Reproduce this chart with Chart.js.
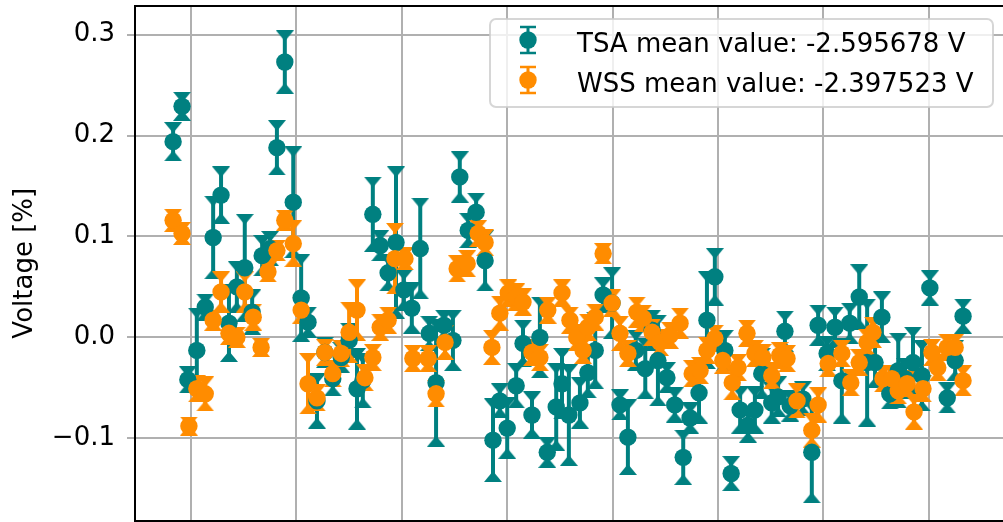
<!DOCTYPE html>
<html>
<head>
<meta charset="utf-8">
<script src="https://cdn.jsdelivr.net/npm/chart.js@4.4.0/dist/chart.umd.min.js"></script>
<style>
    html, body { margin: 0; padding: 0; background: #fff; }
    #wrap { width: 1003px; height: 522px; position: relative; }
</style>
</head>
<body>
<div id="wrap"><canvas id="myChart"></canvas></div>
<script>

// measurement day of each TSA sample, its deviation [%] and the error
var tsaDay = [16.6, 18.3, 19.4, 21.1, 22.7, 24.2, 25.7, 27.2, 28.7, 30.2, 31.6, 33.5, 35.0, 36.3, 37.8, 39.4, 40.9, 42.2, 43.9, 45.4,
    46.9, 48.5, 50.0, 51.5, 52.6, 54.5, 55.9, 57.4, 58.9, 60.4, 61.9, 63.5, 65.2, 66.5, 68.0, 69.7, 71.0, 72.6, 74.1, 75.8,
    77.3, 78.6, 80.0, 81.7, 83.0, 84.7, 86.2, 87.6, 89.3, 90.4, 91.7, 93.8, 95.3, 96.7, 98.2, 99.9, 101.4, 102.9, 104.4, 106.2,
    107.5, 108.6, 110.3, 111.8, 113.4, 114.7, 116.4, 117.9, 119.4, 121.3, 122.5, 124.2, 125.7, 127.0, 128.3, 130.2, 131.4, 132.7, 133.7, 136.1,
    137.8, 139.0, 140.7, 142.2, 143.5, 145.0, 146.8, 148.3, 149.8, 151.1, 152.6, 154.2, 155.5, 157.0, 158.7, 160.2, 163.5, 165.0, 166.5];

var tsaValue = [0.194, 0.229, -0.042, -0.013, 0.030, 0.099, 0.141, 0.014, 0.050, 0.069, 0.025, 0.081, 0.088, 0.188, 0.273, 0.134, 0.039, 0.015, -0.063, -0.015,
    -0.041, -0.020, -0.003, -0.051, -0.043, 0.122, 0.091, 0.064, 0.094, 0.047, 0.029, 0.088, 0.004, -0.045, 0.012, -0.003, 0.159, 0.106, 0.124, 0.076,
    -0.102, -0.063, -0.090, -0.048, -0.006, -0.077, 0.000, -0.114, -0.069, -0.046, -0.077, -0.065, -0.035, -0.013, 0.042, 0.034, -0.067, -0.099, -0.013, -0.031,
    0.007, -0.023, -0.040, -0.067, -0.119, -0.080, -0.055, 0.017, 0.060, -0.013, -0.135, -0.072, -0.087, -0.072, -0.036, -0.065, -0.059, 0.006, -0.068, -0.061,
    -0.114, 0.012, -0.016, 0.010, -0.043, 0.014, 0.040, -0.025, -0.025, 0.020, -0.056, -0.033, -0.041, -0.025, -0.038, 0.049, -0.060, -0.023, 0.021];

var tsaError = [0.014, 0.009, 0.008, 0.037, 0.008, 0.036, 0.023, 0.033, 0.020, 0.048, 0.017, 0.015, 0.012, 0.022, 0.026, 0.050, 0.038, 0.010, 0.022, 0.010,
    0.012, 0.010, 0.012, 0.035, 0.022, 0.032, 0.010, 0.013, 0.070, 0.015, 0.020, 0.045, 0.012, 0.058, 0.010, 0.025, 0.020, 0.012, 0.014, 0.025,
    0.036, 0.012, 0.025, 0.017, 0.018, 0.018, 0.035, 0.010, 0.038, 0.030, 0.045, 0.020, 0.020, 0.033, 0.012, 0.030, 0.010, 0.032, 0.015, 0.025,
    0.015, 0.040, 0.010, 0.012, 0.022, 0.010, 0.025, 0.043, 0.023, 0.015, 0.012, 0.018, 0.012, 0.018, 0.020, 0.015, 0.015, 0.015, 0.010, 0.012,
    0.045, 0.015, 0.012, 0.015, 0.037, 0.015, 0.027, 0.058, 0.020, 0.020, 0.010, 0.032, 0.015, 0.030, 0.030, 0.012, 0.010, 0.015, 0.012];

// same for WSS
var wssDay = [16.6, 18.3, 19.6, 21.1, 22.7, 24.2, 25.7, 27.2, 28.7, 30.2, 31.8, 33.3, 34.6, 36.3, 37.8, 39.4, 40.9, 42.2, 43.9, 45.4,
    46.9, 48.5, 50.0, 51.5, 53.0, 54.5, 55.9, 57.4, 58.7, 60.6, 62.1, 65.0, 66.5, 68.2, 70.5, 72.4, 74.5, 75.8, 77.1, 78.6,
    80.2, 81.7, 83.0, 84.7, 86.2, 87.7, 90.4, 91.9, 93.2, 94.4, 95.3, 96.7, 98.2, 99.9, 101.4, 102.9, 104.6, 105.8, 107.5, 109.0,
    110.9, 112.8, 115.1, 116.6, 117.9, 119.4, 120.9, 122.7, 123.8, 125.5, 127.0, 128.5, 130.2, 131.7, 133.1, 135.0, 137.8, 139.0, 140.9, 143.5,
    145.2, 146.8, 148.3, 149.4, 151.3, 153.0, 154.2, 155.9, 157.2, 158.9, 160.6, 161.7, 163.5, 165.0, 166.5];

var wssValue = [0.116, 0.103, -0.088, -0.051, -0.056, 0.017, 0.045, 0.004, 0.000, 0.045, 0.020, -0.010, 0.065, 0.086, 0.116, 0.093, 0.027, -0.046, -0.060, -0.015,
    -0.036, -0.016, 0.005, 0.027, -0.040, -0.020, 0.010, 0.017, 0.078, 0.078, -0.021, -0.021, -0.056, -0.005, 0.068, 0.073, 0.103, 0.094, -0.010, 0.024,
    0.044, 0.040, 0.035, -0.015, -0.020, 0.027, 0.044, 0.017, 0.000, -0.013, 0.010, 0.020, 0.083, 0.034, 0.004, -0.016, 0.025, 0.019, 0.005, -0.005,
    0.002, 0.014, -0.036, -0.033, -0.013, -0.001, -0.023, -0.045, -0.030, 0.004, -0.016, -0.020, -0.038, -0.018, -0.021, -0.063, -0.092, -0.067, -0.026, -0.016,
    -0.045, -0.025, -0.005, 0.005, -0.041, -0.041, -0.053, -0.046, -0.074, -0.051, -0.015, -0.030, -0.010, -0.010, -0.043];

var wssError = [0.006, 0.006, 0.004, 0.008, 0.012, 0.005, 0.015, 0.006, 0.005, 0.015, 0.008, 0.004, 0.005, 0.005, 0.005, 0.018, 0.008, 0.025, 0.008, 0.008,
    0.008, 0.008, 0.025, 0.025, 0.008, 0.008, 0.008, 0.008, 0.030, 0.006, 0.008, 0.008, 0.008, 0.012, 0.008, 0.008, 0.008, 0.008, 0.012, 0.012,
    0.008, 0.008, 0.008, 0.008, 0.008, 0.008, 0.008, 0.008, 0.008, 0.008, 0.008, 0.008, 0.005, 0.008, 0.012, 0.008, 0.010, 0.008, 0.008, 0.008,
    0.008, 0.010, 0.008, 0.008, 0.008, 0.008, 0.008, 0.012, 0.008, 0.008, 0.008, 0.008, 0.008, 0.008, 0.008, 0.012, 0.012, 0.012, 0.008, 0.008,
    0.008, 0.008, 0.008, 0.010, 0.008, 0.008, 0.008, 0.008, 0.012, 0.008, 0.008, 0.008, 0.008, 0.008, 0.010];

var seriesLabels = ['TSA mean value: -2.595678 V', 'WSS mean value: -2.397523 V'];

var TEAL = '#008080';
var ORANGE = '#ff8c00';

Chart.defaults.font.family = '"DejaVu Sans", sans-serif';
Chart.defaults.font.size = 26;
Chart.defaults.color = '#000';

// triangle cap marker, flat side outwards
function capImage(color, up) {
    var c = document.createElement('canvas');
    c.width = 18;
    c.height = 11;
    var g = c.getContext('2d');
    g.fillStyle = color;
    g.beginPath();
    if (up) {
        g.moveTo(9, 0); g.lineTo(18, 11); g.lineTo(0, 11);
    } else {
        g.moveTo(0, 0); g.lineTo(18, 0); g.lineTo(9, 11);
    }
    g.closePath();
    g.fill();
    return c;
}

function toPoints(days, values) {
    var pts = [];
    for (var i = 0; i < days.length; i++) {
        pts.push({ x: days[i], y: values[i] });
    }
    return pts;
}

function errorSegments(days, values, errors) {
    var pts = [];
    for (var i = 0; i < days.length; i++) {
        pts.push({ x: days[i], y: values[i] - errors[i] });
        pts.push({ x: days[i], y: values[i] + errors[i] });
        pts.push({ x: days[i], y: null });
    }
    return pts;
}

function capPoints(days, values, errors, sign) {
    var pts = [];
    for (var i = 0; i < days.length; i++) {
        pts.push({ x: days[i], y: values[i] + sign * errors[i] });
    }
    return pts;
}

function errorDatasets(days, values, errors, color, order) {
    return [{
        type: 'line',
        data: errorSegments(days, values, errors),
        borderColor: color,
        borderWidth: 4,
        pointRadius: 0,
        spanGaps: false,
        tension: 0,
        fill: false,
        order: order
    }, {
        type: 'scatter',
        data: capPoints(days, values, errors, 1),
        pointStyle: capImage(color, false),
        pointRadius: 9,
        order: order - 1
    }, {
        type: 'scatter',
        data: capPoints(days, values, errors, -1),
        pointStyle: capImage(color, true),
        pointRadius: 9,
        order: order - 1
    }];
}

function markerDataset(days, values, color, order) {
    return {
        type: 'scatter',
        data: toPoints(days, values),
        backgroundColor: color,
        borderWidth: 0,
        pointRadius: 8.7,
        pointHoverRadius: 8.7,
        order: order
    };
}

function roundRectPath(ctx, x, y, w, h, r) {
    ctx.beginPath();
    ctx.moveTo(x + r, y);
    ctx.arcTo(x + w, y, x + w, y + h, r);
    ctx.arcTo(x + w, y + h, x, y + h, r);
    ctx.arcTo(x, y + h, x, y, r);
    ctx.arcTo(x, y, x + w, y, r);
    ctx.closePath();
}

// framed legend in the upper right corner with errorbar glyphs
var legendBox = {
    id: 'legendBox',
    afterDraw: function (chart) {
        var ctx = chart.ctx;
        var area = chart.chartArea;
        var w = 503, h = 88;
        var left = area.right - 10 - w;
        var top = area.top + 13;
        var colors = [TEAL, ORANGE];

        ctx.save();
        roundRectPath(ctx, left, top, w, h, 6);
        ctx.fillStyle = 'rgba(255,255,255,0.8)';
        ctx.fill();
        ctx.lineWidth = 2;
        ctx.strokeStyle = 'rgba(204,204,204,0.8)';
        ctx.stroke();

        for (var i = 0; i < seriesLabels.length; i++) {
            var cx = left + 38;
            var cy = top + 21 + i * 40;
            ctx.strokeStyle = colors[i];
            ctx.fillStyle = colors[i];
            ctx.lineWidth = 3;
            ctx.beginPath();
            ctx.moveTo(cx, cy - 13);
            ctx.lineTo(cx, cy + 13);
            ctx.stroke();
            ctx.lineWidth = 2.5;
            ctx.beginPath();
            ctx.moveTo(cx - 8, cy - 13); ctx.lineTo(cx + 8, cy - 13);
            ctx.moveTo(cx - 8, cy + 13); ctx.lineTo(cx + 8, cy + 13);
            ctx.stroke();
            ctx.beginPath();
            ctx.arc(cx, cy, 8.7, 0, Math.PI * 2);
            ctx.fill();

            ctx.fillStyle = '#000';
            ctx.font = '26px "DejaVu Sans"';
            ctx.textBaseline = 'alphabetic';
            ctx.textAlign = 'left';
            ctx.fillText(seriesLabels[i], left + 87, top + 33 + i * 40);
        }
        ctx.restore();
    }
};

var datasets = []
    .concat(errorDatasets(tsaDay, tsaValue, tsaError, TEAL, 7))
    .concat(errorDatasets(wssDay, wssValue, wssError, ORANGE, 5))
    .concat([markerDataset(tsaDay, tsaValue, TEAL, 2), markerDataset(wssDay, wssValue, ORANGE, 1)]);

var ctx = document.getElementById('myChart').getContext('2d');

window.myChart = new Chart(ctx, {
    type: 'scatter',
    data: { datasets: datasets },
    plugins: [legendBox],
    options: {
        responsive: true,
        maintainAspectRatio: false,
        animation: false,
        events: [],
        layout: { autoPadding: false, padding: { top: 6, bottom: 1.5, left: 0, right: 0 } },
        plugins: {
            legend: { display: false },
            tooltip: { enabled: false }
        },
        scales: {
            x: {
                type: 'linear',
                min: 9.37,
                max: 174.08,
                offset: false,
                ticks: { display: false, stepSize: 20, includeBounds: false },
                grid: { color: '#b0b0b0', lineWidth: 2, drawTicks: false, offset: false },
                border: { color: '#000', width: 2 },
                afterFit: function (scale) {
                    scale.paddingLeft = 0; scale.paddingRight = 0;
                }
            },
            x2: {
                type: 'linear',
                position: 'top',
                min: 9.37,
                max: 174.08,
                ticks: { display: false },
                grid: { display: false, drawTicks: false },
                border: { color: '#000', width: 2 },
                afterFit: function (scale) {
                    scale.height = 0; scale.paddingLeft = 0; scale.paddingRight = 0;
                }
            },
            y: {
                type: 'linear',
                min: -0.1816,
                max: 0.3285,
                ticks: {
                    stepSize: 0.1,
                    includeBounds: false,
                    padding: 12,
                    callback: function (v) {
                        return (v < -1e-9 ? '\u2212' : '') + Math.abs(v).toFixed(1);
                    }
                },
                grid: { color: '#b0b0b0', lineWidth: 2, tickLength: 8, tickColor: '#b0b0b0' },
                border: { color: '#000', width: 2 },
                title: { display: true, text: 'Voltage [%]', padding: { top: 10, bottom: 0 } },
                afterFit: function (scale) {
                    scale.width = 135;
                    scale.paddingTop = 0;
                    scale.paddingBottom = 0;
                }
            }
        }
    }
});

</script>
</body>
</html>
